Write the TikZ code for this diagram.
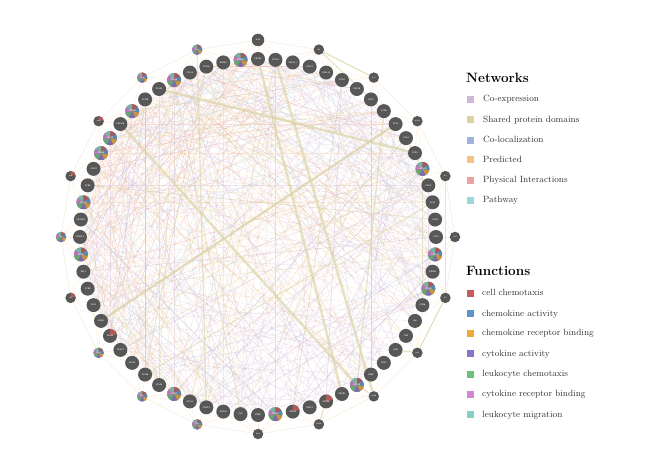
\documentclass[tikz,border=0pt]{standalone}
\usetikzlibrary{calc}
\pgfdeclarelayer{bg}
\pgfsetlayers{bg,main}
\definecolor{coexp}{HTML}{D0B7D5}
\definecolor{spd}{HTML}{DAD4A2}
\definecolor{coloc}{HTML}{A0B3DC}
\definecolor{pred}{HTML}{F6C384}
\definecolor{phys}{HTML}{EAA2A2}
\definecolor{pathw}{HTML}{9BD8DE}
\definecolor{fA}{HTML}{C75B5B}
\definecolor{fB}{HTML}{5B95CC}
\definecolor{fC}{HTML}{EDA93A}
\definecolor{fD}{HTML}{8A74CB}
\definecolor{fE}{HTML}{6CC27A}
\definecolor{fF}{HTML}{D584D6}
\definecolor{fG}{HTML}{86D0C4}
\definecolor{gnode}{HTML}{575757}
\begin{document}
\begin{tikzpicture}[x=1pt,y=1pt,
  gene/.style={circle, fill=gnode, minimum size=14pt, inner sep=0pt, text=white,
    font=\fontsize{2.1}{2.3}\selectfont\sffamily\bfseries},
  outer/.style={gene, minimum size=10.5pt, font=\fontsize{1.7}{2}\selectfont\sffamily\bfseries},
  pie/.style={path picture={\foreach \cc [count=\ii] in {fA,fB,fC,fD,fE,fF,fG}{
      \fill[\cc, opacity=0.75] (path picture bounding box.center) -- ++({90-(\ii-1)*51.43}:10pt)
        arc[start angle={90-(\ii-1)*51.43}, end angle={90-\ii*51.43}, radius=10pt] -- cycle;}}},
  redpart/.style={path picture={\fill[fA, opacity=0.8] (path picture bounding box.center) -- ++(90:10pt)
        arc[start angle=90, end angle=15, radius=10pt] -- cycle;}},
  coexpE/.style={draw=coexp, line width=0.45pt, opacity=0.35},
  predE/.style={draw=pred, line width=0.45pt, opacity=0.3},
  physE/.style={draw=phys, line width=0.45pt, opacity=0.3},
  colocE/.style={draw=coloc, line width=0.45pt, opacity=0.3},
  pathE/.style={draw=pathw, line width=0.45pt, opacity=0.3},
  spdE/.style={draw=spd, line width=0.6pt, opacity=0.5},
  spdM/.style={draw=spd, line width=1.2pt, opacity=0.6},
  spdT/.style={draw=spd, line width=2.4pt, opacity=0.65},
  ringE/.style={draw=spd, line width=0.45pt, opacity=0.45},
  legsq/.style={rectangle, minimum size=7pt, inner sep=0pt},
  legtxt/.style={anchor=mid west, inner sep=0pt, font=\fontsize{9}{10}\selectfont, text=black!80},
  leghead/.style={anchor=mid west, inner sep=0pt, font=\fontsize{13.5}{15}\selectfont\bfseries},
  gs13/.style={pie}, gs18/.style={pie}, gs20/.style={pie}, gs27/.style={pie},
  gs32/.style={pie}, gs38/.style={pie}, gs48/.style={pie}, gs51/.style={pie},
  gs54/.style={pie}, gs55/.style={pie}, gs57/.style={pie}, gs60/.style={pie}, gs64/.style={pie},
  gs29/.style={redpart}, gs31/.style={redpart}, gs43/.style={redpart},
  os11/.style={pie}, os12/.style={pie}, os13/.style={pie}, os15/.style={pie},
  os18/.style={pie}, os19/.style={pie},
  os14/.style={redpart}, os16/.style={redpart}, os17/.style={redpart}
]
\useasboundingbox (0,0) rectangle (661,455);
\begin{scope}[shift={(258,218)}]
\foreach \lab [count=\k] in {CXCR3,CCL19,CXCL11,CCL21,CXCL13,CCR7,CXCL9,CCL5,CCR5,CCL3,CCL4,CCR1,CXCL10,CCL8,CCL7,CCR2,CCL2,CXCL12,CXCR4,CCL20,CCR6,IL6,TNF,IL1B,CSF2,IFNG,CXCL8,CXCR1,CXCR2,CXCL1,CXCL2,CXCL5,PPBP,PF4,CXCL6,CXCL3,CCL11,CCR3,CCL24,CCL26,CCL13,CCL17,CCL22,CCR4,CCL1,CCR8,XCL1,XCR1,CX3CL1,CX3CR1,CCL25,CCR9,CCL27,CCR10,CCL28,CXCL16,CXCR6,CCL18,CCL23,CCL15,CCL14,CCL16,ACKR1,ACKR2}{
  \pgfmathsetmacro\ang{90-(\k-1)*5.625}
  \node[gene, gs\k/.try] (n\k) at (\ang:178) {\lab};
}
\foreach \lab [count=\jj from 0] in {IL10,IL4,IL13,IL17A,IL2,IL15,IL7,IL21,IL12A,IL23A,IL1A,IL18,IL33,TSLP,IL5,IL3,IL9,IL22,IL27,IL11}{
  \pgfmathsetmacro\ang{90-18*\jj}
  \node[outer, os\jj/.try] (o\jj) at (\ang:197) {\lab};
}
\node[gene, minimum size=12.5pt] (top) at (o0) {IL10};
\end{scope}

\begin{pgfonlayer}{bg}
\pgfmathsetseed{4711}
% co-expression
\foreach \i in {1,...,230}{
  \pgfmathtruncatemacro\a{random(1,64)}
  \pgfmathtruncatemacro\b{mod(\a+random(6,52)-1,64)+1}
  \draw[coexpE] (n\a) -- (n\b);
}
% predicted, mostly on the left
\foreach \i in {1,...,120}{
  \pgfmathtruncatemacro\a{random(34,63)}
  \pgfmathtruncatemacro\b{mod(\a+random(3,40)-1,64)+1}
  \draw[predE] (n\a) -- (n\b);
}
% physical interactions
\foreach \i in {1,...,45}{
  \pgfmathtruncatemacro\a{random(36,62)}
  \pgfmathtruncatemacro\b{mod(\a+random(4,30)-1,64)+1}
  \draw[physE] (n\a) -- (n\b);
}
% co-localization
\foreach \i in {1,...,25}{
  \pgfmathtruncatemacro\a{random(1,64)}
  \pgfmathtruncatemacro\b{mod(\a+random(8,50)-1,64)+1}
  \draw[colocE] (n\a) -- (n\b);
}
% pathway
\foreach \i in {1,...,10}{
  \pgfmathtruncatemacro\a{random(1,64)}
  \pgfmathtruncatemacro\b{mod(\a+random(8,50)-1,64)+1}
  \draw[pathE] (n\a) -- (n\b);
}
% shared protein domains, thin
\foreach \i in {1,...,30}{
  \pgfmathtruncatemacro\a{random(1,64)}
  \pgfmathtruncatemacro\b{mod(\a+random(8,50)-1,64)+1}
  \draw[spdE] (n\a) -- (n\b);
}
% outer nodes to neighbouring inner nodes
\foreach \jj in {0,...,19}{
  \pgfmathtruncatemacro\c{round(3.2*\jj)}
  \pgfmathtruncatemacro\nx{mod(\jj+1,20)}
  \draw[ringE] (o\jj) -- (o\nx);
  \foreach \d in {-2,...,2}{
    \pgfmathtruncatemacro\m{mod(\c+\d+64,64)+1}
    \draw[predE] (o\jj) -- (n\m);
  }
}
% thick shared protein domains
\draw[spdT] (n59) -- (n12);
\draw[spdT] (n1) -- (n28);
\draw[spdT] (n44) -- (n10);
\draw[spdT] (n56) -- (n27);
\draw[spdT] (n2) -- (o8);
\draw[spdM] (o4) -- (o6);
\draw[spdM] (n11) -- (n13);
\draw[spdM] (n13) -- (n21);
\draw[spdM] (o1) -- (o2);
\draw[spdM] (o1) -- (n9);
\draw[spdM] (o7) -- (o6);
\draw[spdM] (o9) -- (n29);
\draw[spdM] (o8) -- (n27);
\draw[spdM] (o19) -- (n36);
\draw[spdM] (n9) -- (n27);
\draw[spdM] (o7) -- (n24);
\end{pgfonlayer}

% legend
\node[leghead] (hN) at (466,375) {Networks};
\foreach \col/\txt/\yy [count=\r] in {coexp/Co-expression/355.7, spd/Shared protein domains/335, coloc/Co-localization/314.3, pred/Predicted/295, phys/Physical Interactions/274.3, pathw/Pathway/254.3}{
  \node[legsq, fill=\col] (sq\r) at (470,\yy) {};
  \node[legtxt] (lt\r) at (483,\yy) {\txt};
}
\node[leghead] (hF) at (466,182) {Functions};
\foreach \col/\txt/\yy [count=\r] in {fA/cell chemotaxis/161.7, fB/chemokine activity/141, fC/chemokine receptor binding/121.7, fD/cytokine activity/101, fE/leukocyte chemotaxis/80.7, fF/cytokine receptor binding/60.7, fG/leukocyte migration/40}{
  \node[legsq, fill=\col] (fq\r) at (470,\yy) {};
  \node[legtxt] (ft\r) at (482,\yy) {\txt};
}
\end{tikzpicture}
\end{document}
